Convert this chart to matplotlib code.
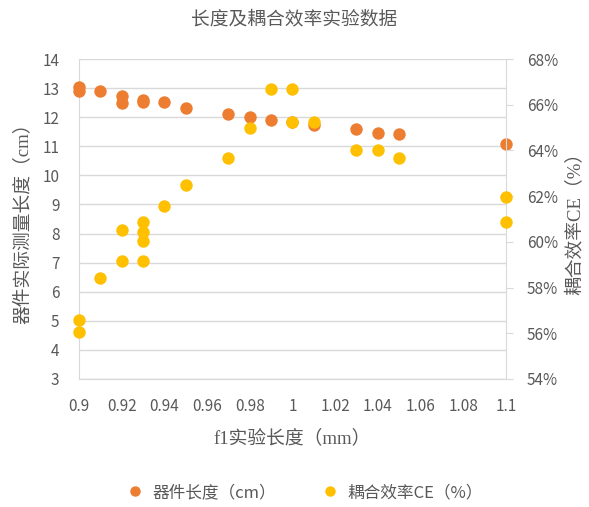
import matplotlib
matplotlib.use("Agg")
import matplotlib.pyplot as plt
from matplotlib.ticker import FuncFormatter, MultipleLocator
from matplotlib.lines import Line2D

plt.rcParams['font.family'] = ['Noto Sans CJK SC', 'DejaVu Sans']

# f1 experimental length (mm) and measured device length (cm)
len_x = [0.90, 0.90, 0.91, 0.92, 0.92, 0.93, 0.93, 0.94, 0.95, 0.97,
         0.98, 0.99, 1.00, 1.01, 1.03, 1.04, 1.05, 1.10]
len_y = [13.05, 12.90, 12.90, 12.74, 12.48, 12.60, 12.52, 12.53, 12.32, 12.11,
         12.00, 11.92, 11.85, 11.73, 11.58, 11.45, 11.41, 11.09]

# f1 experimental length (mm) and coupling efficiency CE (%)
ce_x = [0.90, 0.90, 0.91, 0.92, 0.92, 0.93, 0.93, 0.93, 0.93, 0.94,
        0.95, 0.97, 0.98, 0.99, 1.00, 1.00, 1.01, 1.03, 1.04, 1.05,
        1.10, 1.10]
ce_y = [56.6, 56.05, 58.4, 60.5, 59.15, 60.87, 60.43, 60.02, 59.15, 61.57,
        62.5, 63.65, 65.0, 66.7, 66.7, 65.23, 65.26, 64.02, 64.02, 63.65,
        61.97, 60.88]

title = "长度及耦合效率实验数据"
xlabel = "f1实验长度（mm）"
ylabel_left = "器件实际测量长度（cm）"
ylabel_right = "耦合效率CE（%）"
legend_labels = ["器件长度（cm）", "耦合效率CE（%）"]

ORANGE = "#ED7D31"
YELLOW = "#FFC000"
TEXT = "#595959"
GRID = "#D9D9D9"
serif_cjk = ['Liberation Serif', 'Noto Sans CJK SC']

fig = plt.figure(figsize=(5.89, 5.07), dpi=100)
ax = fig.add_axes([0.134, 0.2525, 0.725, 0.631])
ax2 = ax.twinx()

ax.set_xlim(0.9, 1.1)
ax.set_ylim(3, 14)
ax2.set_ylim(54, 68)

ax.xaxis.set_major_locator(MultipleLocator(0.02))
ax.yaxis.set_major_locator(MultipleLocator(1))
ax2.yaxis.set_major_locator(MultipleLocator(2))
ax.xaxis.set_major_formatter(FuncFormatter(lambda v, p: f"{v:.2f}".rstrip('0').rstrip('.')))
ax2.yaxis.set_major_formatter(FuncFormatter(lambda v, p: f"{v:.0f}%"))

ax.grid(axis='y', color=GRID, linewidth=1)
ax.set_axisbelow(True)
for a in (ax, ax2):
    a.spines['top'].set_visible(False)
    a.spines['left'].set_color(GRID)
    a.spines['right'].set_color(GRID)
    a.spines['bottom'].set_color(GRID)
ax2.spines['left'].set_visible(False)
ax.spines['right'].set_visible(False)

ax.tick_params(axis='x', length=0, labelsize=11, labelcolor=TEXT, pad=14)
ax.tick_params(axis='y', length=0, labelsize=11, labelcolor=TEXT, pad=14)
ax2.tick_params(axis='y', length=5, color=GRID, labelsize=11, labelcolor=TEXT, pad=10)

ax.scatter(len_x, len_y, s=80, color=ORANGE, zorder=3, clip_on=False, linewidths=0)
ax2.scatter(ce_x, ce_y, s=80, color=YELLOW, zorder=4, clip_on=False, linewidths=0)

fig.text(0.5, 0.962, title, ha='center', va='center', fontsize=13.5, color=TEXT)
ax.set_xlabel(xlabel, fontsize=13.5, color=TEXT, family=serif_cjk, labelpad=10)
ax.set_ylabel(ylabel_left, fontsize=13.5, color=TEXT, family=serif_cjk, labelpad=8)
ax2.set_ylabel(ylabel_right, fontsize=13.5, color=TEXT, family=serif_cjk,
               rotation=90, labelpad=6)

handles = [Line2D([], [], marker='o', linestyle='none', markersize=7.5,
                  markerfacecolor=c, markeredgewidth=0) for c in (ORANGE, YELLOW)]
fig.legend(handles, legend_labels, loc='center', bbox_to_anchor=(0.51, 0.028),
           ncol=2, frameon=False, fontsize=12, labelcolor=TEXT,
           handletextpad=0.05, columnspacing=2.2)

fig.savefig("out.png", dpi=100)
